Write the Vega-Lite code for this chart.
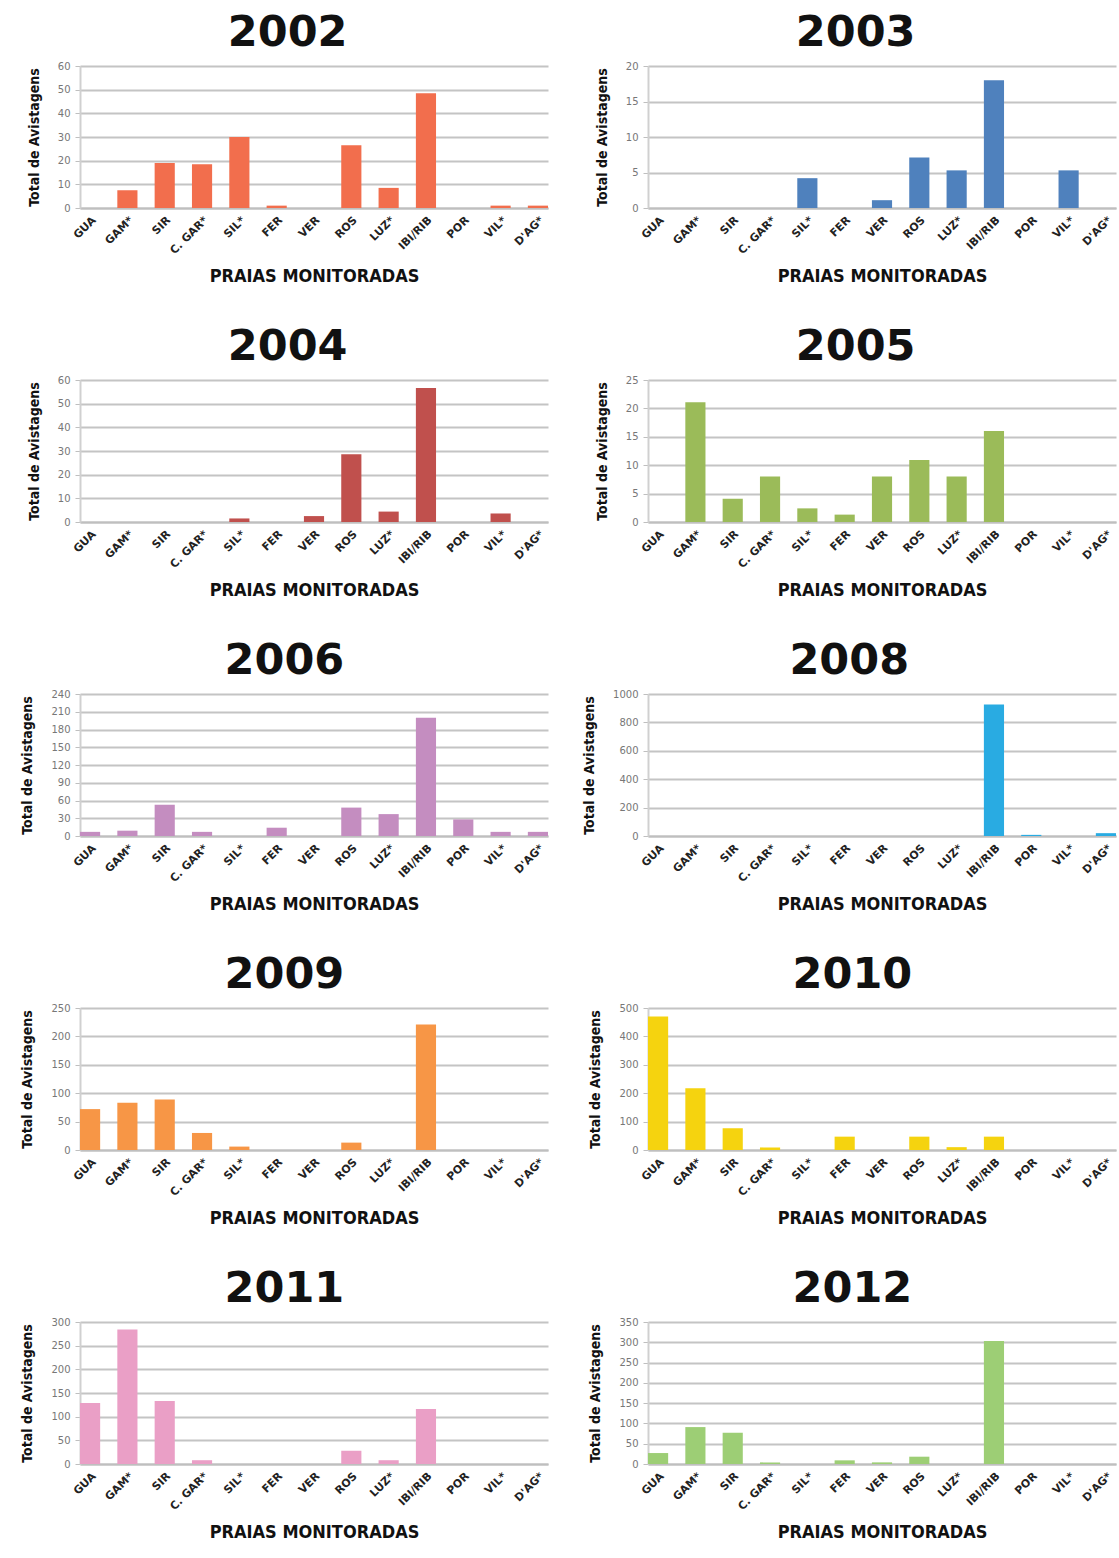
{
  "$schema": "https://vega.github.io/schema/vega-lite/v6.json",
  "background": "white",
  "padding": {"left": 20, "top": 12, "right": 1, "bottom": 2},
  "data": {"values": [
    {"ano":2002,"praia":"GUA","total":0},{"ano":2002,"praia":"GAM*","total":7.5},{"ano":2002,"praia":"SIR","total":19},{"ano":2002,"praia":"C. GAR*","total":18.5},{"ano":2002,"praia":"SIL*","total":30},{"ano":2002,"praia":"FER","total":1},{"ano":2002,"praia":"VER","total":0},{"ano":2002,"praia":"ROS","total":26.5},{"ano":2002,"praia":"LUZ*","total":8.5},{"ano":2002,"praia":"IBI/RIB","total":48.5},{"ano":2002,"praia":"POR","total":0},{"ano":2002,"praia":"VIL*","total":1},{"ano":2002,"praia":"D'AG*","total":1},
    {"ano":2003,"praia":"GUA","total":0},{"ano":2003,"praia":"GAM*","total":0},{"ano":2003,"praia":"SIR","total":0},{"ano":2003,"praia":"C. GAR*","total":0},{"ano":2003,"praia":"SIL*","total":4.2},{"ano":2003,"praia":"FER","total":0},{"ano":2003,"praia":"VER","total":1.1},{"ano":2003,"praia":"ROS","total":7.1},{"ano":2003,"praia":"LUZ*","total":5.3},{"ano":2003,"praia":"IBI/RIB","total":18},{"ano":2003,"praia":"POR","total":0},{"ano":2003,"praia":"VIL*","total":5.3},{"ano":2003,"praia":"D'AG*","total":0},
    {"ano":2004,"praia":"GUA","total":0},{"ano":2004,"praia":"GAM*","total":0},{"ano":2004,"praia":"SIR","total":0},{"ano":2004,"praia":"C. GAR*","total":0},{"ano":2004,"praia":"SIL*","total":1.5},{"ano":2004,"praia":"FER","total":0},{"ano":2004,"praia":"VER","total":2.5},{"ano":2004,"praia":"ROS","total":28.6},{"ano":2004,"praia":"LUZ*","total":4.4},{"ano":2004,"praia":"IBI/RIB","total":56.6},{"ano":2004,"praia":"POR","total":0},{"ano":2004,"praia":"VIL*","total":3.6},{"ano":2004,"praia":"D'AG*","total":0},
    {"ano":2005,"praia":"GUA","total":0},{"ano":2005,"praia":"GAM*","total":21.1},{"ano":2005,"praia":"SIR","total":4.1},{"ano":2005,"praia":"C. GAR*","total":8},{"ano":2005,"praia":"SIL*","total":2.4},{"ano":2005,"praia":"FER","total":1.3},{"ano":2005,"praia":"VER","total":8},{"ano":2005,"praia":"ROS","total":10.9},{"ano":2005,"praia":"LUZ*","total":8},{"ano":2005,"praia":"IBI/RIB","total":16},{"ano":2005,"praia":"POR","total":0},{"ano":2005,"praia":"VIL*","total":0},{"ano":2005,"praia":"D'AG*","total":0},
    {"ano":2006,"praia":"GUA","total":7},{"ano":2006,"praia":"GAM*","total":9},{"ano":2006,"praia":"SIR","total":53},{"ano":2006,"praia":"C. GAR*","total":7},{"ano":2006,"praia":"SIL*","total":0},{"ano":2006,"praia":"FER","total":14},{"ano":2006,"praia":"VER","total":0},{"ano":2006,"praia":"ROS","total":48},{"ano":2006,"praia":"LUZ*","total":37},{"ano":2006,"praia":"IBI/RIB","total":200},{"ano":2006,"praia":"POR","total":28},{"ano":2006,"praia":"VIL*","total":7},{"ano":2006,"praia":"D'AG*","total":7},
    {"ano":2008,"praia":"GUA","total":0},{"ano":2008,"praia":"GAM*","total":0},{"ano":2008,"praia":"SIR","total":0},{"ano":2008,"praia":"C. GAR*","total":0},{"ano":2008,"praia":"SIL*","total":0},{"ano":2008,"praia":"FER","total":0},{"ano":2008,"praia":"VER","total":0},{"ano":2008,"praia":"ROS","total":0},{"ano":2008,"praia":"LUZ*","total":0},{"ano":2008,"praia":"IBI/RIB","total":926},{"ano":2008,"praia":"POR","total":8},{"ano":2008,"praia":"VIL*","total":0},{"ano":2008,"praia":"D'AG*","total":20},
    {"ano":2009,"praia":"GUA","total":72},{"ano":2009,"praia":"GAM*","total":83},{"ano":2009,"praia":"SIR","total":89},{"ano":2009,"praia":"C. GAR*","total":30},{"ano":2009,"praia":"SIL*","total":6},{"ano":2009,"praia":"FER","total":0},{"ano":2009,"praia":"VER","total":0},{"ano":2009,"praia":"ROS","total":13},{"ano":2009,"praia":"LUZ*","total":0},{"ano":2009,"praia":"IBI/RIB","total":221},{"ano":2009,"praia":"POR","total":0},{"ano":2009,"praia":"VIL*","total":0},{"ano":2009,"praia":"D'AG*","total":0},
    {"ano":2010,"praia":"GUA","total":470},{"ano":2010,"praia":"GAM*","total":217},{"ano":2010,"praia":"SIR","total":77},{"ano":2010,"praia":"C. GAR*","total":9},{"ano":2010,"praia":"SIL*","total":0},{"ano":2010,"praia":"FER","total":47},{"ano":2010,"praia":"VER","total":0},{"ano":2010,"praia":"ROS","total":47},{"ano":2010,"praia":"LUZ*","total":10},{"ano":2010,"praia":"IBI/RIB","total":47},{"ano":2010,"praia":"POR","total":0},{"ano":2010,"praia":"VIL*","total":0},{"ano":2010,"praia":"D'AG*","total":0},
    {"ano":2011,"praia":"GUA","total":129},{"ano":2011,"praia":"GAM*","total":284},{"ano":2011,"praia":"SIR","total":133},{"ano":2011,"praia":"C. GAR*","total":8},{"ano":2011,"praia":"SIL*","total":0},{"ano":2011,"praia":"FER","total":0},{"ano":2011,"praia":"VER","total":0},{"ano":2011,"praia":"ROS","total":28},{"ano":2011,"praia":"LUZ*","total":8},{"ano":2011,"praia":"IBI/RIB","total":116},{"ano":2011,"praia":"POR","total":0},{"ano":2011,"praia":"VIL*","total":0},{"ano":2011,"praia":"D'AG*","total":0},
    {"ano":2012,"praia":"GUA","total":27},{"ano":2012,"praia":"GAM*","total":91},{"ano":2012,"praia":"SIR","total":77},{"ano":2012,"praia":"C. GAR*","total":4},{"ano":2012,"praia":"SIL*","total":0},{"ano":2012,"praia":"FER","total":9},{"ano":2012,"praia":"VER","total":4},{"ano":2012,"praia":"ROS","total":18},{"ano":2012,"praia":"LUZ*","total":0},{"ano":2012,"praia":"IBI/RIB","total":303},{"ano":2012,"praia":"POR","total":0},{"ano":2012,"praia":"VIL*","total":0},{"ano":2012,"praia":"D'AG*","total":0}
  ]},
  "columns": 2,
  "spacing": {"row": 40, "column": 34},
  "concat": [
    {"title": "2002", "width": 468, "height": 142,
     "transform": [{"filter": {"field": "ano", "equal": 2002}}],
     "mark": {"type": "bar", "color": "#F26E4D"},
     "encoding": {
       "x": {"field": "praia", "type": "nominal", "sort": ["GUA","GAM*","SIR","C. GAR*","SIL*","FER","VER","ROS","LUZ*","IBI/RIB","POR","VIL*","D'AG*"], "title": "PRAIAS MONITORADAS"},
       "y": {"field": "total", "type": "quantitative", "title": "Total de Avistagens", "scale": {"domain": [0, 60]}, "axis": {"values": [0,10,20,30,40,50,60]}}}},
    {"title": "2003", "width": 468, "height": 142,
     "transform": [{"filter": {"field": "ano", "equal": 2003}}],
     "mark": {"type": "bar", "color": "#4F81BD"},
     "encoding": {
       "x": {"field": "praia", "type": "nominal", "sort": ["GUA","GAM*","SIR","C. GAR*","SIL*","FER","VER","ROS","LUZ*","IBI/RIB","POR","VIL*","D'AG*"], "title": "PRAIAS MONITORADAS"},
       "y": {"field": "total", "type": "quantitative", "title": "Total de Avistagens", "scale": {"domain": [0, 20]}, "axis": {"values": [0,5,10,15,20]}}}},
    {"title": "2004", "width": 468, "height": 142,
     "transform": [{"filter": {"field": "ano", "equal": 2004}}],
     "mark": {"type": "bar", "color": "#C0504D"},
     "encoding": {
       "x": {"field": "praia", "type": "nominal", "sort": ["GUA","GAM*","SIR","C. GAR*","SIL*","FER","VER","ROS","LUZ*","IBI/RIB","POR","VIL*","D'AG*"], "title": "PRAIAS MONITORADAS"},
       "y": {"field": "total", "type": "quantitative", "title": "Total de Avistagens", "scale": {"domain": [0, 60]}, "axis": {"values": [0,10,20,30,40,50,60]}}}},
    {"title": "2005", "width": 468, "height": 142,
     "transform": [{"filter": {"field": "ano", "equal": 2005}}],
     "mark": {"type": "bar", "color": "#9BBB59"},
     "encoding": {
       "x": {"field": "praia", "type": "nominal", "sort": ["GUA","GAM*","SIR","C. GAR*","SIL*","FER","VER","ROS","LUZ*","IBI/RIB","POR","VIL*","D'AG*"], "title": "PRAIAS MONITORADAS"},
       "y": {"field": "total", "type": "quantitative", "title": "Total de Avistagens", "scale": {"domain": [0, 25]}, "axis": {"values": [0,5,10,15,20,25]}}}},
    {"title": "2006", "width": 468, "height": 142,
     "transform": [{"filter": {"field": "ano", "equal": 2006}}],
     "mark": {"type": "bar", "color": "#C48DC0"},
     "encoding": {
       "x": {"field": "praia", "type": "nominal", "sort": ["GUA","GAM*","SIR","C. GAR*","SIL*","FER","VER","ROS","LUZ*","IBI/RIB","POR","VIL*","D'AG*"], "title": "PRAIAS MONITORADAS"},
       "y": {"field": "total", "type": "quantitative", "title": "Total de Avistagens", "scale": {"domain": [0, 240]}, "axis": {"values": [0,30,60,90,120,150,180,210,240]}}}},
    {"title": "2008", "width": 468, "height": 142,
     "transform": [{"filter": {"field": "ano", "equal": 2008}}],
     "mark": {"type": "bar", "color": "#29ABE2"},
     "encoding": {
       "x": {"field": "praia", "type": "nominal", "sort": ["GUA","GAM*","SIR","C. GAR*","SIL*","FER","VER","ROS","LUZ*","IBI/RIB","POR","VIL*","D'AG*"], "title": "PRAIAS MONITORADAS"},
       "y": {"field": "total", "type": "quantitative", "title": "Total de Avistagens", "scale": {"domain": [0, 1000]}, "axis": {"values": [0,200,400,600,800,1000], "format": "d"}}}},
    {"title": "2009", "width": 468, "height": 142,
     "transform": [{"filter": {"field": "ano", "equal": 2009}}],
     "mark": {"type": "bar", "color": "#F79646"},
     "encoding": {
       "x": {"field": "praia", "type": "nominal", "sort": ["GUA","GAM*","SIR","C. GAR*","SIL*","FER","VER","ROS","LUZ*","IBI/RIB","POR","VIL*","D'AG*"], "title": "PRAIAS MONITORADAS"},
       "y": {"field": "total", "type": "quantitative", "title": "Total de Avistagens", "scale": {"domain": [0, 250]}, "axis": {"values": [0,50,100,150,200,250]}}}},
    {"title": "2010", "width": 468, "height": 142,
     "transform": [{"filter": {"field": "ano", "equal": 2010}}],
     "mark": {"type": "bar", "color": "#F5D30F"},
     "encoding": {
       "x": {"field": "praia", "type": "nominal", "sort": ["GUA","GAM*","SIR","C. GAR*","SIL*","FER","VER","ROS","LUZ*","IBI/RIB","POR","VIL*","D'AG*"], "title": "PRAIAS MONITORADAS"},
       "y": {"field": "total", "type": "quantitative", "title": "Total de Avistagens", "scale": {"domain": [0, 500]}, "axis": {"values": [0,100,200,300,400,500]}}}},
    {"title": "2011", "width": 468, "height": 142,
     "transform": [{"filter": {"field": "ano", "equal": 2011}}],
     "mark": {"type": "bar", "color": "#EA9FC6"},
     "encoding": {
       "x": {"field": "praia", "type": "nominal", "sort": ["GUA","GAM*","SIR","C. GAR*","SIL*","FER","VER","ROS","LUZ*","IBI/RIB","POR","VIL*","D'AG*"], "title": "PRAIAS MONITORADAS"},
       "y": {"field": "total", "type": "quantitative", "title": "Total de Avistagens", "scale": {"domain": [0, 300]}, "axis": {"values": [0,50,100,150,200,250,300]}}}},
    {"title": "2012", "width": 468, "height": 142,
     "transform": [{"filter": {"field": "ano", "equal": 2012}}],
     "mark": {"type": "bar", "color": "#9DCE75"},
     "encoding": {
       "x": {"field": "praia", "type": "nominal", "sort": ["GUA","GAM*","SIR","C. GAR*","SIL*","FER","VER","ROS","LUZ*","IBI/RIB","POR","VIL*","D'AG*"], "title": "PRAIAS MONITORADAS"},
       "y": {"field": "total", "type": "quantitative", "title": "Total de Avistagens", "scale": {"domain": [0, 350]}, "axis": {"values": [0,50,100,150,200,250,300,350]}}}}
  ],
  "config": {
    "view": {"stroke": null},
    "scale": {"bandPaddingInner": 0.46, "bandPaddingOuter": 0},
    "title": {"font": "DejaVu Sans", "fontSize": 43, "fontWeight": 900, "color": "#111111", "offset": 6, "anchor": "middle", "frame": "bounds"},
    "axisX": {"labelAngle": -45, "labelFont": "DejaVu Sans", "labelFontSize": 11, "labelFontWeight": "bold", "labelColor": "#222222", "ticks": false, "domainColor": "#BFBFBF", "domainWidth": 2, "grid": false, "labelPadding": 6,
      "titleFont": "DejaVu Sans Condensed, Roboto, sans-serif", "titleFontSize": 18, "titleFontWeight": "bold", "titleColor": "#111111", "titlePadding": 12},
    "axisY": {"gridColor": "#C4C4C4", "gridWidth": 2, "domain": true, "domainColor": "#D0D0D0", "domainWidth": 2, "tickColor": "#BFBFBF", "tickSize": 5, "labelFont": "DejaVu Sans", "labelFontSize": 10, "labelColor": "#777777", "labelPadding": 5,
      "titleFont": "DejaVu Sans Condensed, Roboto, sans-serif", "titleFontSize": 14, "titleFontWeight": "bold", "titleColor": "#111111", "titlePadding": 16}
  }
}
